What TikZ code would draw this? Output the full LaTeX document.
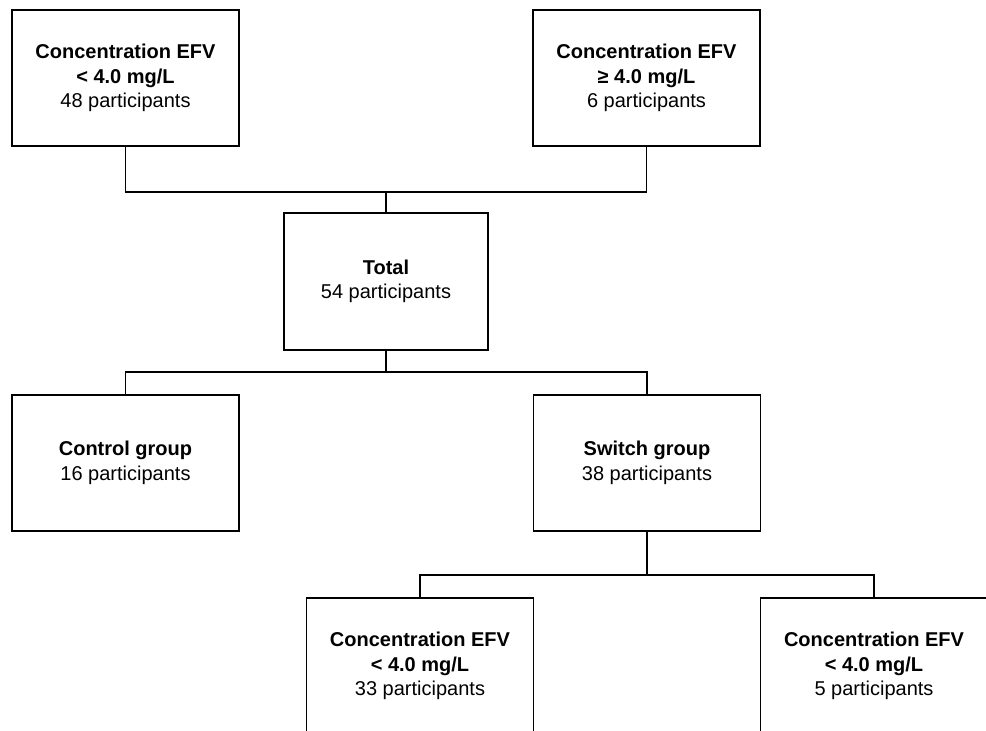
\documentclass[tikz,border=0pt]{standalone}
\usepackage{fontspec}
\setmainfont{Liberation Sans}
\usepackage{tikz}
\usetikzlibrary{positioning}

\begin{document}
\begin{tikzpicture}[
    x=1pt, y=1pt,
    group/.style={rectangle, draw, line width=1.6pt, minimum width=227pt, minimum height=136pt, align=center, inner sep=2pt, font=\fontsize{20}{24.5}\selectfont},
    link/.style={line width=1.6pt}
]
\useasboundingbox (0,0) rectangle (986,-731);

% Nodes
\node[group] (conc-low) at (125.5,-78) {\textbf{Concentration EFV}\\\textbf{< 4.0 mg/L}\\48 participants};
\node[group] (conc-high) at (646.5,-78) {\textbf{Concentration EFV}\\\textbf{≥ 4.0 mg/L}\\6 participants};
\node[group, minimum width=204pt, minimum height=137pt] (total) at (386,-281.5) {\textbf{Total}\\54 participants};
\node[group] (control) at (125.5,-463) {\textbf{Control group}\\16 participants};
\node[group] (switch) at (647,-463) {\textbf{Switch group}\\38 participants};
\node[group] (switch-low) at (420,-666) {\textbf{Concentration EFV}\\\textbf{< 4.0 mg/L}\\33 participants};
\node[group] (switch-high) at (874,-666) {\textbf{Concentration EFV}\\\textbf{< 4.0 mg/L}\\5 participants};

% Junctions
\coordinate (top-join) at (386,-192);
\coordinate (mid-join) at (386,-372);
\coordinate (low-join) at (647,-575);

% Lines
\draw[link] (conc-low.south) |- (top-join) -| (conc-high.south);
\draw[link] (top-join) -- (total);
\draw[link] (total) -- (mid-join);
\draw[link] (control.north) |- (mid-join) -| (switch.north);
\draw[link] (switch) -- (low-join);
\draw[link] (switch-low.north) |- (low-join) -| (switch-high.north);

\end{tikzpicture}
\end{document}
